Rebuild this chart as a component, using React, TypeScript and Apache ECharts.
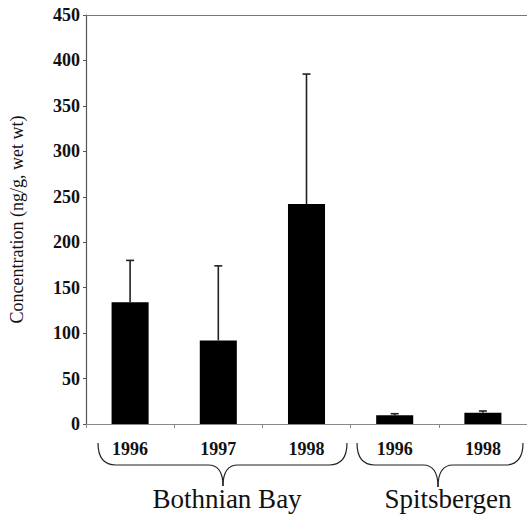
import React, { useEffect, useRef } from "react";
import * as echarts from "echarts";

const categories = ["1996", "1997", "1998", "1996", "1998"];
const means = [134, 92, 242, 9.5, 12.4];
const errHigh = [180, 174, 385, 11.3, 14.3];
const groups = ["Bothnian Bay", "Spitsbergen"];
const yTicks = { min: 0, max: 450, interval: 50 };

const SERIF = "Liberation Serif";

function brace(x1: number, x2: number, xm: number, yTop: number, yBar: number, yTip: number) {
  const st = { stroke: "#222", lineWidth: 1.2, fill: null };
  const r = 18;
  const r2 = 15;
  return [
    { type: "bezierCurve", shape: { x1: x1, y1: yTop, cpx1: x1, cpy1: yBar, x2: x1 + r, y2: yBar }, style: st },
    { type: "line", shape: { x1: x1 + r, y1: yBar, x2: xm - r2, y2: yBar }, style: st },
    { type: "bezierCurve", shape: { x1: xm - r2, y1: yBar, cpx1: xm, cpy1: yBar, x2: xm, y2: yTip }, style: st },
    { type: "bezierCurve", shape: { x1: xm, y1: yTip, cpx1: xm, cpy1: yBar, x2: xm + r2, y2: yBar }, style: st },
    { type: "line", shape: { x1: xm + r2, y1: yBar, x2: x2 - r, y2: yBar }, style: st },
    { type: "bezierCurve", shape: { x1: x2 - r, y1: yBar, cpx1: x2, cpy1: yBar, x2: x2, y2: yTop }, style: st },
  ];
}

export default function App() {
  const ref = useRef<HTMLDivElement>(null);
  useEffect(() => {
    if (!ref.current) return;
    const chart = echarts.init(ref.current, null, { renderer: "svg" });
    const errData = means.map((m, i) => [i, m, errHigh[i]]);
    chart.setOption({
      animation: false,
      backgroundColor: "#fff",
      textStyle: { fontFamily: SERIF },
      grid: { left: 86, right: 0, top: 15, bottom: 90 },
      xAxis: [
        {
          type: "category",
          data: categories,
          axisLine: { show: true, lineStyle: { color: "#888", width: 1.2 } },
          axisTick: { show: true, length: 4, lineStyle: { color: "#888" } },
          axisLabel: {
            margin: 16,
            fontFamily: SERIF,
            fontWeight: "bold",
            fontSize: 18,
            color: "#111",
          },
        },
        {
          type: "category",
          position: "top",
          data: categories,
          axisLine: { show: true, onZero: false, lineStyle: { color: "#777", width: 1 } },
          axisTick: { show: false },
          axisLabel: { show: false },
        },
      ],
      yAxis: {
        type: "value",
        min: yTicks.min,
        max: yTicks.max,
        interval: yTicks.interval,
        name: "Concentration (ng/g, wet wt)",
        nameLocation: "middle",
        nameRotate: 90,
        nameGap: 60,
        nameTextStyle: { fontFamily: SERIF, fontSize: 18, color: "#111" },
        axisLine: { show: true, lineStyle: { color: "#555", width: 1.2 } },
        axisTick: { show: true, length: 3, lineStyle: { color: "#555" } },
        splitLine: { show: false },
        axisLabel: {
          margin: 6,
          fontFamily: SERIF,
          fontWeight: "bold",
          fontSize: 18,
          color: "#111",
        },
      },
      series: [
        {
          type: "bar",
          data: means,
          barWidth: "42%",
          itemStyle: { color: "#000" },
          z: 2,
        },
        {
          type: "custom",
          data: errData,
          z: 3,
          renderItem: (params: any, api: any) => {
            const x = api.value(0);
            const lo = api.coord([x, api.value(1)]);
            const hi = api.coord([x, api.value(2)]);
            const cap = 4;
            const style = { stroke: "#222", lineWidth: 1.6 };
            return {
              type: "group",
              children: [
                { type: "line", shape: { x1: lo[0], y1: lo[1], x2: hi[0], y2: hi[1] }, style },
                { type: "line", shape: { x1: hi[0] - cap, y1: hi[1], x2: hi[0] + cap, y2: hi[1] }, style },
              ],
            };
          },
        },
      ],
      graphic: [
        ...brace(98, 347, 223, 443, 465, 486),
        ...brace(357, 523, 438, 443, 465, 487),
        {
          type: "text",
          x: 227,
          y: 499,
          style: { text: groups[0], fontFamily: SERIF, fontSize: 27, fill: "#111", textAlign: "center", textVerticalAlign: "middle" },
        },
        {
          type: "text",
          x: 448,
          y: 499,
          style: { text: groups[1], fontFamily: SERIF, fontSize: 27, fill: "#111", textAlign: "center", textVerticalAlign: "middle" },
        },
      ],
    });
    return () => chart.dispose();
  }, []);
  return <div ref={ref} style={{ position: "fixed", left: 0, top: 0, width: 527, height: 514 }} />;
}
